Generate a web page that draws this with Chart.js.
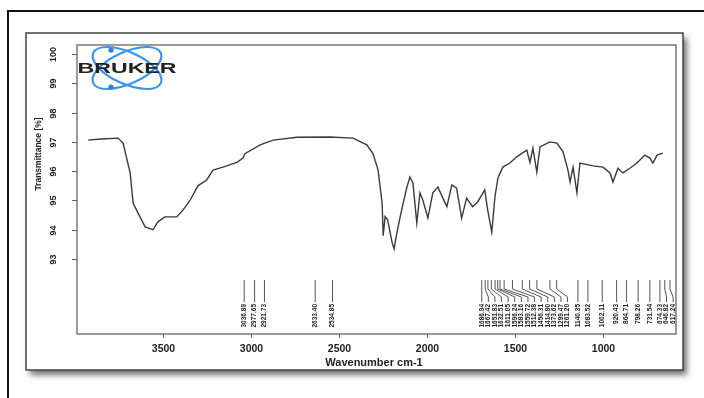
<!DOCTYPE html>
<html>
<head>
<meta charset="utf-8">
<script src="https://cdn.jsdelivr.net/npm/chart.js@4.4.0/dist/chart.umd.min.js"></script>
<style>
  html, body { margin: 0; padding: 0; background: #fff; }
  #wrap { width: 704px; height: 398px; }
</style>
</head>
<body>
<div id="wrap"><canvas id="irChart" width="704" height="398"></canvas></div>
<script>
/********************
DATA
********************/
var wavenumber = [3924, 3850, 3754, 3725, 3685, 3668, 3629, 3600, 3555, 3527, 3488, 3420, 3385, 3345,
  3300, 3250, 3214, 3158, 3078, 3044, 3033, 2946, 2872, 2736, 2550, 2418, 2340, 2305, 2276, 2253,
  2247, 2236, 2222, 2196, 2185, 2169, 2140, 2112, 2095, 2078, 2056, 2038, 2021, 1993, 1965, 1936,
  1908, 1885, 1857, 1830, 1801, 1773, 1739, 1710, 1670, 1653, 1630, 1612, 1595, 1567, 1527, 1488,
  1431, 1413, 1396, 1374, 1356, 1300, 1260, 1225, 1197, 1185, 1168, 1146, 1129, 1055, 998, 958,
  941, 913, 885, 845, 805, 760, 731, 714, 691, 657];
var transmittance = [97.06, 97.10, 97.13, 96.96, 95.94, 94.90, 94.44, 94.10, 94.00, 94.27, 94.44, 94.44, 94.67, 95.00,
  95.50, 95.70, 96.04, 96.14, 96.30, 96.45, 96.60, 96.90, 97.06, 97.16, 97.17, 97.13, 96.90, 96.60, 96.04, 94.90,
  93.80, 94.45, 94.35, 93.55, 93.35, 93.90, 94.74, 95.46, 95.80, 95.60, 94.23, 95.26, 95.00, 94.40, 95.26, 95.46,
  95.08, 94.79, 95.53, 95.42, 94.40, 95.08, 94.79, 94.95, 95.36, 94.67, 93.92, 95.12, 95.77, 96.14, 96.28, 96.49,
  96.72, 96.30, 96.79, 95.97, 96.83, 97.00, 96.96, 96.66, 96.04, 95.63, 96.14, 95.26, 96.28, 96.18, 96.14, 95.94,
  95.63, 96.10, 95.94, 96.10, 96.28, 96.55, 96.45, 96.28, 96.55, 96.62];

var xTicks = [3500, 3000, 2500, 2000, 1500, 1000];
var yTicks = [100, 99, 98, 97, 96, 95, 94, 93];

// picked peaks (cm-1), printed under the spectrum
var peaks = [3036.89, 2977.65, 2921.73, 2633.40, 2534.85,
  1686.94, 1667.42, 1651.83, 1632.51, 1611.05, 1596.24, 1583.16, 1559.72, 1512.38, 1456.31, 1414.80, 1373.62,
  1299.47, 1261.20, 1140.35, 1083.52, 1002.11, 920.43, 864.71, 798.26, 731.54, 674.33, 646.82, 617.24];

/********************
DRAWING HELPERS
********************/
var decor = {
  id: 'decor',
  beforeDraw: function (chart) {
    var ctx = chart.ctx;
    ctx.save();
    ctx.fillStyle = '#fff';
    ctx.fillRect(0, 0, chart.width, chart.height);

    // outer frame
    ctx.strokeStyle = '#111';
    ctx.lineWidth = 2;
    ctx.beginPath();
    ctx.moveTo(8, 398);
    ctx.lineTo(8, 11);
    ctx.lineTo(704, 11);
    ctx.stroke();

    // figure box with shadow
    ctx.shadowColor = 'rgba(0,0,0,0.55)';
    ctx.shadowBlur = 6;
    ctx.shadowOffsetX = 4;
    ctx.shadowOffsetY = 5;
    ctx.fillStyle = '#fff';
    ctx.fillRect(26, 33, 657, 337);
    ctx.shadowColor = 'transparent';
    ctx.strokeStyle = '#444';
    ctx.lineWidth = 1.5;
    ctx.strokeRect(26, 33, 657, 337);

    // logo
    ctx.strokeStyle = '#3a95ee';
    ctx.lineWidth = 2.2;
    ctx.beginPath();
    ctx.ellipse(127, 68, 37, 16, 0.42, 0, Math.PI * 2);
    ctx.stroke();
    ctx.beginPath();
    ctx.ellipse(127, 68, 37, 16, -0.42, 0, Math.PI * 2);
    ctx.stroke();
    ctx.fillStyle = '#2a7fe0';
    ctx.beginPath(); ctx.arc(111, 50, 2.6, 0, Math.PI * 2); ctx.fill();
    ctx.beginPath(); ctx.arc(111, 87, 2.6, 0, Math.PI * 2); ctx.fill();

    ctx.font = 'bold 14px "Liberation Sans", Arial, sans-serif';
    var w = ctx.measureText('BRUKER').width;
    ctx.save();
    ctx.translate(127, 69);
    ctx.scale(99 / w, 1);
    ctx.fillStyle = '#222';
    ctx.textAlign = 'center';
    ctx.textBaseline = 'middle';
    ctx.fillText('BRUKER', 0, 0);
    ctx.restore();
    ctx.restore();
  },
  afterDatasetsDraw: function (chart) {
    var ctx = chart.ctx;
    var a = chart.chartArea;
    var xs = chart.scales.x, ys = chart.scales.y;
    ctx.save();

    // plot frame
    ctx.strokeStyle = '#7a7a7a';
    ctx.lineWidth = 1.5;
    ctx.strokeRect(a.left, a.top, a.right - a.left, a.bottom - a.top);

    ctx.fillStyle = '#222';
    ctx.strokeStyle = '#666';
    ctx.lineWidth = 1;

    // y axis
    ctx.font = 'bold 9px "Liberation Sans", Arial, sans-serif';
    yTicks.forEach(function (v) {
      var y = Math.round(ys.getPixelForValue(v)) + 0.5;
      ctx.beginPath(); ctx.moveTo(a.left - 5, y); ctx.lineTo(a.left, y); ctx.stroke();
      ctx.save();
      ctx.translate(54, y);
      ctx.rotate(-Math.PI / 2);
      ctx.textAlign = 'center';
      ctx.textBaseline = 'middle';
      ctx.fillText(String(v), 0, 0);
      ctx.restore();
    });
    ctx.save();
    ctx.translate(39, 154);
    ctx.rotate(-Math.PI / 2);
    ctx.textAlign = 'center';
    ctx.textBaseline = 'middle';
    ctx.font = 'bold 8.5px "Liberation Sans", Arial, sans-serif';
    ctx.fillText('Transmittance [%]', 0, 0);
    ctx.restore();

    // x axis
    ctx.font = 'bold 10.5px "Liberation Sans", Arial, sans-serif';
    ctx.textAlign = 'center';
    ctx.textBaseline = 'middle';
    xTicks.forEach(function (v) {
      var x = Math.round(xs.getPixelForValue(v)) + 0.5;
      ctx.beginPath(); ctx.moveTo(x, a.bottom); ctx.lineTo(x, a.bottom + 4); ctx.stroke();
      ctx.fillText(String(v), x, 349);
    });
    ctx.font = 'bold 11px "Liberation Sans", Arial, sans-serif';
    ctx.fillText('Wavenumber cm-1', 374, 363);

    // peak labels
    ctx.strokeStyle = '#555';
    ctx.lineWidth = 1;
    ctx.font = 'bold 6.5px "Liberation Sans", Arial, sans-serif';
    var slot = -1e9;
    var pts = peaks.map(function (p) { return xs.getPixelForValue(p); }).sort(function (m, n) { return m - n; });
    var idx = 0;
    pts.forEach(function (px) {
      var lx = Math.max(px, slot + 6.6);
      slot = lx;
      ctx.beginPath();
      ctx.moveTo(px, 280);
      ctx.lineTo(px, 289);
      ctx.lineTo(lx, 297);
      ctx.lineTo(lx, 302);
      ctx.stroke();
      var val = xs.getValueForPixel(px);
      ctx.save();
      ctx.translate(lx, 304);
      ctx.rotate(-Math.PI / 2);
      ctx.textAlign = 'right';
      ctx.textBaseline = 'middle';
      ctx.fillText(val.toFixed(2), 0, 0);
      ctx.restore();
      idx++;
    });
    ctx.restore();
  }
};

/********************
IR SPECTRUM
********************/
var ctx = document.getElementById('irChart').getContext('2d');
var chart = new Chart(ctx, {
    type: 'line',
    data: {
        datasets: [{
            data: wavenumber.map(function (w, i) { return { x: w, y: transmittance[i] }; }),
            borderColor: '#3a3a3a',
            borderWidth: 1.4,
            pointRadius: 0,
            tension: 0,
            fill: false
        }]
    },
    options: {
      responsive: false,
      animation: false,
      layout: { padding: { left: 77, top: 45, right: 28, bottom: 64 } },
      plugins: { legend: { display: false }, tooltip: { enabled: false } },
      scales: {
        x: { type: 'linear', reverse: true, min: 583, max: 3987, display: false },
        y: { min: 90.44, max: 100.31, display: false }
      }
    },
    plugins: [decor]
});
</script>
</body>
</html>
